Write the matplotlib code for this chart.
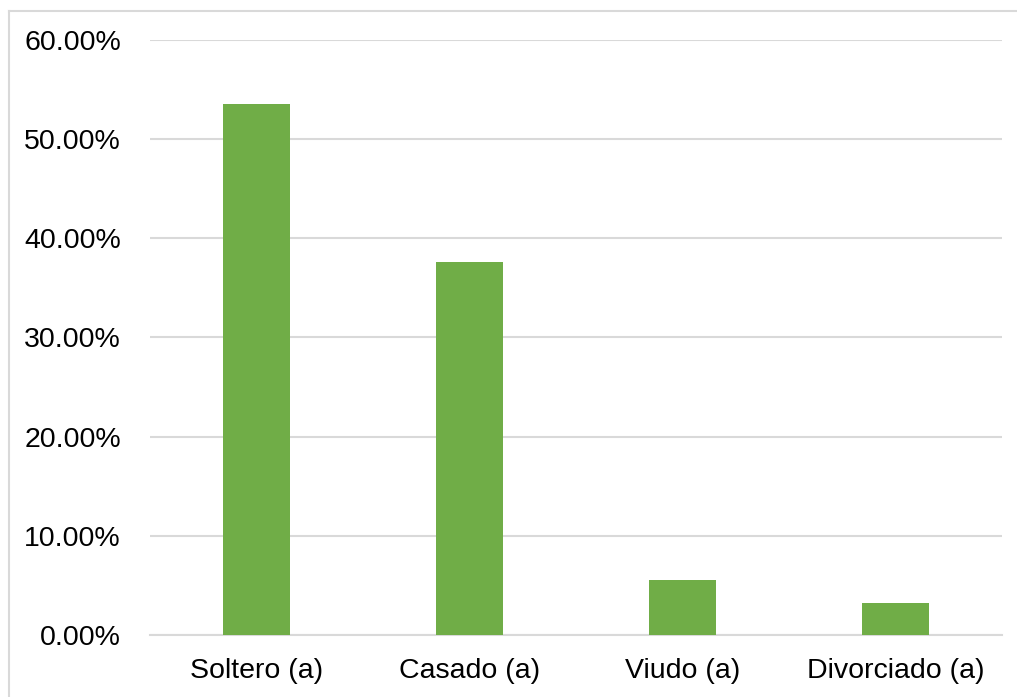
import matplotlib
matplotlib.use("Agg")
import matplotlib.pyplot as plt
from matplotlib.lines import Line2D
from matplotlib.ticker import FuncFormatter, MultipleLocator

categories = ["Soltero (a)", "Casado (a)", "Viudo (a)", "Divorciado (a)"]
values = [0.535, 0.376, 0.055, 0.032]

W, H = 1017, 697
fig = plt.figure(figsize=(W / 100, H / 100), dpi=100)
plt.rcParams["font.family"] = ["Liberation Sans", "DejaVu Sans"]

ax = fig.add_axes([150 / W, 1 - 635 / H, (1002 - 150) / W, (635 - 40) / H])
ax.bar(range(len(categories)), values, width=0.315, color="#70ad47", zorder=3)

ax.set_xlim(-0.5, len(categories) - 0.5)
ax.set_ylim(0, 0.6)
ax.yaxis.set_major_locator(MultipleLocator(0.1))
ax.yaxis.set_major_formatter(FuncFormatter(lambda v, p: f"{v * 100:.2f}%"))
ax.set_xticks(range(len(categories)))
ax.set_xticklabels(categories)

ax.grid(axis="y", color="#d9d9d9", linewidth=1.5, zorder=0)
for s in ["top", "right", "left"]:
    ax.spines[s].set_visible(False)
ax.spines["bottom"].set_color("#d9d9d9")
ax.spines["bottom"].set_linewidth(1.5)
ax.tick_params(axis="both", length=0, labelsize=20.5, colors="#000000")
ax.tick_params(axis="y", pad=21)
ax.tick_params(axis="x", pad=16.5)

# outer chart frame (left and top edges)
fig.add_artist(Line2D([8.5 / W, 8.5 / W], [0, 1 - 11 / H], color="#d9d9d9", linewidth=1.5))
fig.add_artist(Line2D([8.5 / W, 1], [1 - 11 / H, 1 - 11 / H], color="#d9d9d9", linewidth=1.5))

fig.savefig("out.png", dpi=100)
